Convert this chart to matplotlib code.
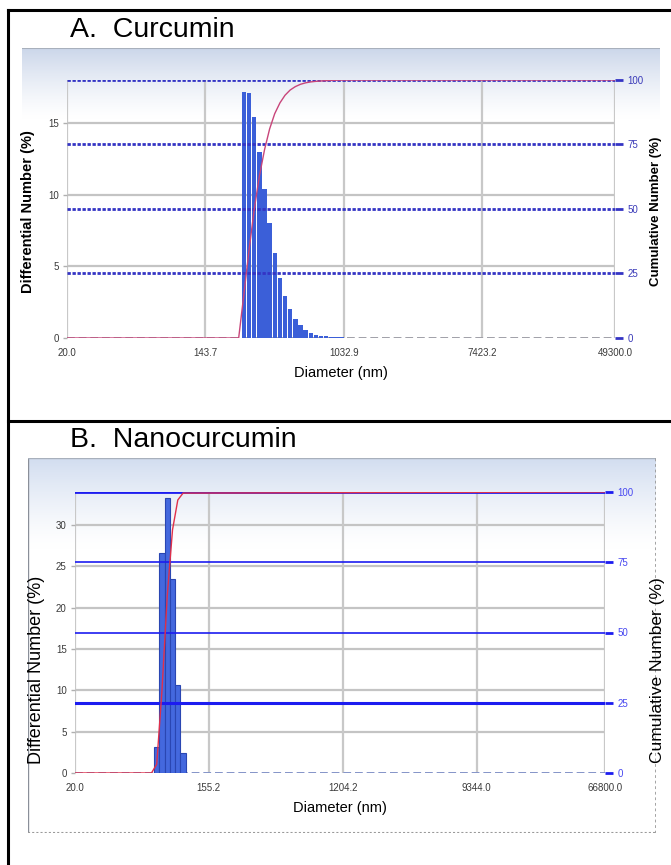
import numpy as np
import matplotlib
matplotlib.use("Agg")
import matplotlib.pyplot as plt
from matplotlib.lines import Line2D

# panel A: curcumin, bin centres (nm) and differential number (%)
diam_a = [231, 249, 268, 288, 310, 334, 359, 386, 416, 447, 481,
          518, 557, 600, 645, 694, 747, 804, 865, 931, 1001]
num_a = [0.0, 17.16, 17.09, 15.41, 12.96, 10.40, 8.00, 5.92, 4.20, 2.94, 2.03,
         1.33, 0.89, 0.58, 0.35, 0.22, 0.15, 0.12, 0.09, 0.07, 0.05]
xticks_a = [20.0, 143.7, 1032.9, 7423.2, 49300.0]
yticks_a = [0, 5, 10, 15]

# panel B: nanocurcumin
diam_b = [64.5, 69.9, 75.8, 82.1, 89.0, 96.5, 104.6]
num_b = [0.0, 3.15, 26.6, 33.3, 23.5, 10.6, 2.46]
xticks_b = [20.0, 155.2, 1204.2, 9344.0, 66800.0]
yticks_b = [0, 5, 10, 15, 20, 25, 30]

cum_ticks = [0, 25, 50, 75, 100]

W, H = 671, 865
fig = plt.figure(figsize=(W / 100, H / 100), dpi=100)
fig.patch.set_facecolor("white")
FONT = "Liberation Sans"


def fx(x):
    return x / W


def fy(y):
    return 1 - y / H


def box(x0, y0, x1, y1):
    return [fx(x0), fy(y1), fx(x1) - fx(x0), fy(y0) - fy(y1)]


# table borders
for xs, ys in [((8, 8), (10, 865)), ((8, 671), (10, 10)), ((8, 671), (421, 421))]:
    fig.add_artist(Line2D([fx(v) for v in xs], [fy(v) for v in ys],
                          color="black", lw=2.2))

fig.text(fx(70), fy(30), "A.  Curcumin", fontsize=20.5, family=FONT,
         va="center", ha="left")
fig.text(fx(70), fy(440), "B.  Nanocurcumin", fontsize=20.5, family=FONT,
         va="center", ha="left")


def background(x0, y0, x1, y1, top_col, fade):
    bg = fig.add_axes(box(x0, y0, x1, y1), zorder=0)
    n = 256
    t = np.linspace(0, 1, n)
    a = np.clip(1 - t / fade, 0, 1) ** 1.3
    c0 = np.array(matplotlib.colors.to_rgb(top_col))
    img = (c0[None, :] * a[:, None] + (1 - a[:, None]))[:, None, :]
    bg.imshow(img, aspect="auto", extent=[0, 1, 0, 1], origin="upper")
    bg.set_xlim(0, 1)
    bg.set_ylim(0, 1)
    bg.axis("off")
    return bg


bgA = background(22, 48, 660, 400, "#ccd7ea", 0.2)
bgA.axhline(1, color="#a8b0bc", lw=1.5)

bgB = background(28, 458, 656, 833, "#d2ddf0", 0.24)
bgB.plot([0, 0], [0, 1], color="#8a8f99", lw=1)
bgB.plot([0, 1], [1, 1], color="#a8b0bc", lw=1)
bgB.plot([0, 1], [0, 0], color="#9a9a9a", lw=1.5, ls=(0, (1, 1)))
bgB.plot([1, 1], [0, 1], color="#9a9a9a", lw=2, ls=(0, (1, 1)))


def edges(d, gap):
    d = np.asarray(d, float)
    mid = np.sqrt(d[1:] * d[:-1])
    lo = np.concatenate([[d[0] ** 2 / mid[0]], mid])
    hi = np.concatenate([mid, [d[-1] ** 2 / mid[-1]]])
    r = (hi / lo) ** gap
    return lo * r, hi / r


def panel(rect, diam, num, xticks, yticks, ymax, style):
    ax = fig.add_axes(rect, zorder=2)
    ax.patch.set_alpha(0)
    ax.set_xscale("log")
    xmin, xmax = xticks[0], xticks[-1]
    ax.set_xlim(xmin, xmax)
    ax.set_ylim(0, ymax)

    # gray grid
    for yv in yticks[1:]:
        ax.axhline(yv, color="#c4c4c4", lw=1.6, zorder=1)
    for xv in xticks:
        ax.axvline(xv, color="#c8c8c8", lw=1.6, zorder=1)
    ax.axhline(0, color=style["base"], lw=1.4, ls=(0, (4, 2)), zorder=1)

    lo, hi = edges(diam, style["gap"])
    ax.bar(lo, num, width=hi - lo, align="edge", color=style["bar"],
           edgecolor=style["edge"], linewidth=style["elw"], zorder=3)

    ax2 = ax.twinx()
    ax2.set_ylim(0, 100)
    ax2.set_xlim(xmin, xmax)
    for cv in cum_ticks[1:]:
        ax2.axhline(cv, color=style["blue"], lw=style["blw"][cv], ls=style["bls"],
                    zorder=2)
    cum = np.cumsum(num)
    cx = [xmin] + list(diam) + [xmax]
    cy = [0] + list(cum) + [100]
    ax2.plot(cx, cy, color=style["red"], lw=1.0, zorder=4)

    for a in (ax, ax2):
        for s in a.spines.values():
            s.set_visible(False)

    ax.set_xticks(xticks)
    ax.set_xticklabels(["%.1f" % v for v in xticks])
    ax.xaxis.set_minor_locator(matplotlib.ticker.NullLocator())
    ax.set_yticks(yticks)
    ax.tick_params(axis="x", length=0, pad=7, labelsize=7, labelcolor="#3a3a3a")
    ax.tick_params(axis="y", length=3, width=1, color="#b0b0b0", pad=3,
                   labelsize=7, labelcolor="#3a3a3a")
    ax2.set_yticks(cum_ticks)
    ax2.tick_params(axis="y", length=6, width=style["blw"][100], color=style["blue"],
                    pad=3, labelsize=7, labelcolor=style["tick"])
    for lab in ax.get_xticklabels() + ax.get_yticklabels() + ax2.get_yticklabels():
        lab.set_family(FONT)

    ax.set_xlabel("Diameter (nm)", fontsize=10.5, family=FONT, labelpad=6)
    ax.set_ylabel("Differential Number (%)", fontsize=style["yl"],
                  family=FONT, fontweight=style["w"])
    ax2.set_ylabel("Cumulative Number (%)", fontsize=style["yr"],
                   family=FONT, fontweight=style["w"])
    ax.yaxis.set_label_coords(style["lx"], style["ly"])
    ax2.yaxis.set_label_coords(style["rx"], style["ly"])
    return ax, ax2


style_a = dict(bar="#3b5fd8", edge="none", elw=0, gap=0.07, base="#a0a0a8",
               blue="#3434c4", bls=(0, (1.2, 0.6)),
               blw={25: 2.0, 50: 2.0, 75: 2.0, 100: 2.0},
               red="#c8457a", tick="#3a3ab8", yl=10.5, yr=9.5, w="bold",
               lx=(35 - 67) / 548, rx=(650 - 67) / 548, ly=0.49)
style_b = dict(bar="#4468de", edge="#2a46b2", elw=0.8, gap=0.0, base="#8494c8",
               blue="#1c1cf0", bls="-",
               blw={25: 2.2, 50: 1.2, 75: 1.2, 100: 2.0},
               red="#e0304a", tick="#4848f0", yl=13, yr=12.5, w="normal",
               lx=(45 - 75) / 530, rx=(650 - 75) / 530, ly=(773 - 670) / 281)

panel(box(67, 80, 615, 338), diam_a, num_a, xticks_a, yticks_a, 18.0, style_a)
panel(box(75, 492, 605, 773), diam_b, num_b, xticks_b, yticks_b, 34.0, style_b)

fig.savefig("out.png", dpi=100)
